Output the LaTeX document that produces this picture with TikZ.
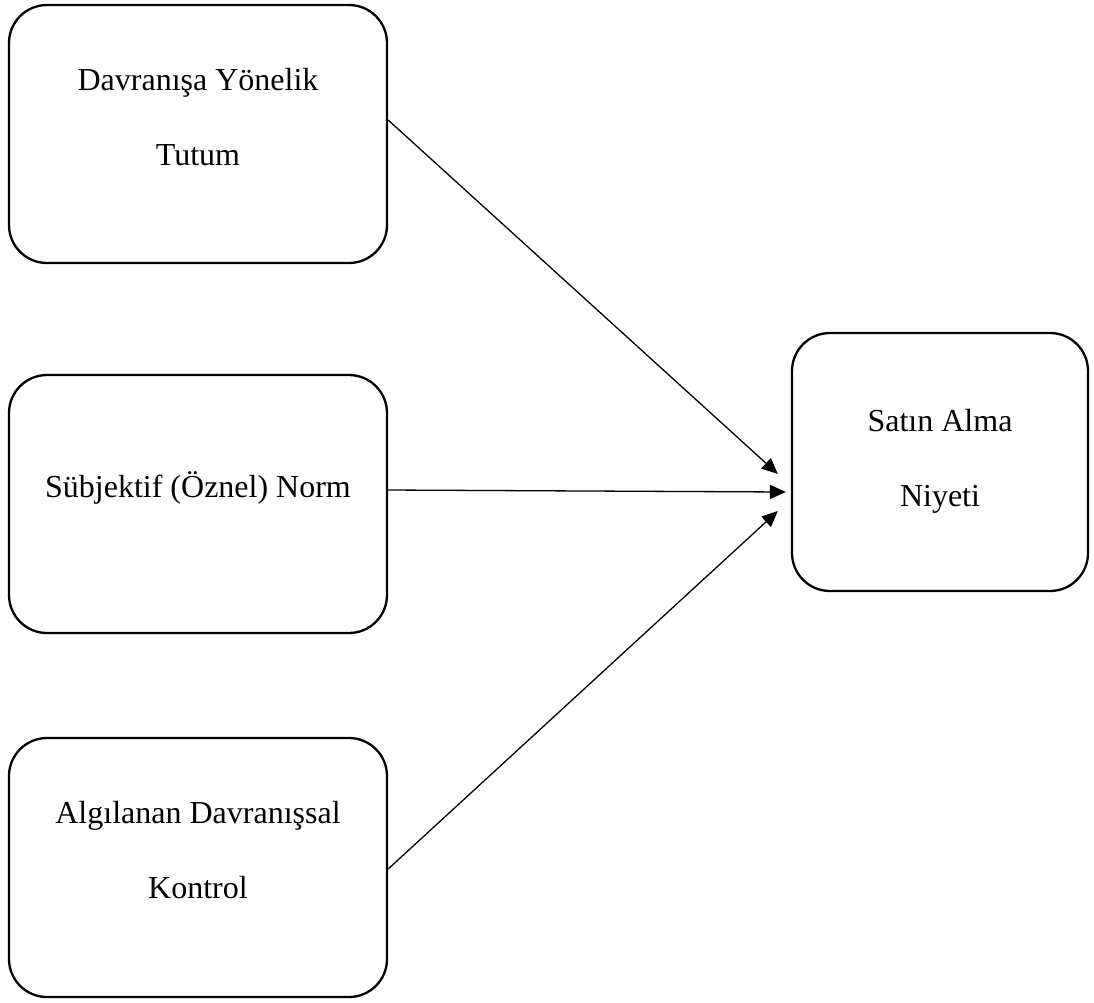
\documentclass[tikz,border=0pt]{standalone}
\usepackage{fontspec}
\setmainfont{Liberation Serif}
\usetikzlibrary{arrows.meta}

\tikzset{
  kutu/.style={rectangle,draw=black,line width=2.3pt,rounded corners=38pt,minimum width=378pt,minimum height=258pt,align=center,font=\fontsize{32}{75}\selectfont},
  ok/.style={line width=1.3pt,-{Triangle[length=16pt,width=14pt]}}
}

\begin{document}
\begin{tikzpicture}[x=1pt,y=-1pt]
\useasboundingbox (0,0) rectangle (1094,1002);

\node (tutum) [kutu,text height=80pt,text depth=16.6pt] at (198,134) {Davranışa Yönelik\\Tutum};
\node (norm) [kutu,text height=10pt,text depth=24pt] at (198,504) {Sübjektif (Öznel) Norm};
\node (kontrol) [kutu,text height=80pt,text depth=19pt,minimum height=259pt] at (198,867.5) {Algılanan Davranışsal\\Kontrol};

\node (niyet) [kutu,text height=100pt,text depth=10.6pt,minimum width=296pt] at (940,462) {Satın Alma\\Niyeti};

\draw[ok] ([yshift=14pt]tutum.east) -- ([xshift=-13pt,yshift=-12pt]niyet.west);
\draw[ok] ([yshift=14pt]norm.east) -- ([xshift=-5pt,yshift=-30pt]niyet.west);
\draw[ok] ([yshift=-1.5pt]kontrol.east) -- ([xshift=-13pt,yshift=-49pt]niyet.west);

\end{tikzpicture}
\end{document}
